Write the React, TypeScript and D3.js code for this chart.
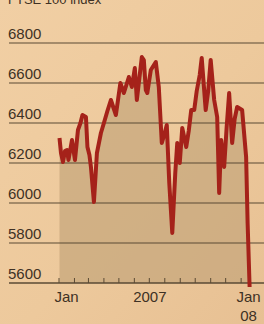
import React, { useEffect, useRef } from 'react';
import * as d3 from 'd3';

// FTSE 100 index, readings
const dates = [
  '2007-01-02', '2007-01-05', '2007-01-09', '2007-01-13', '2007-01-17', '2007-01-20', '2007-01-27', '2007-02-02',
  '2007-02-08', '2007-02-13', '2007-02-17', '2007-02-24', '2007-02-27', '2007-03-03', '2007-03-06',
  '2007-03-12', '2007-03-18', '2007-03-22', '2007-03-26', '2007-04-01', '2007-04-08', '2007-04-15',
  '2007-04-25', '2007-05-04', '2007-05-11', '2007-05-21', '2007-05-27', '2007-06-02',
  '2007-06-06', '2007-06-16', '2007-06-20', '2007-06-24', '2007-06-27', '2007-07-04',
  '2007-07-14', '2007-07-20', '2007-07-26', '2007-08-01', '2007-08-05', '2007-08-10', '2007-08-16',
  '2007-08-22', '2007-08-26', '2007-08-31', '2007-09-05', '2007-09-13', '2007-09-18', '2007-09-23',
  '2007-09-29', '2007-10-04', '2007-10-10', '2007-10-14', '2007-10-22', '2007-10-27', '2007-11-01', '2007-11-08',
  '2007-11-14', '2007-11-18', '2007-11-22', '2007-11-28', '2007-12-03', '2007-12-08', '2007-12-14',
  '2007-12-19', '2007-12-24', '2008-01-03', '2008-01-11', '2008-01-14', '2008-01-18',
];
const values = [
  6325, 6250, 6205, 6260, 6265, 6215, 6315, 6215,
  6365, 6400, 6440, 6430, 6280, 6240, 6180,
  6005, 6250, 6300, 6350, 6400, 6460, 6515,
  6440, 6600, 6550, 6630, 6580, 6675,
  6515, 6730, 6715, 6565, 6550, 6665,
  6705, 6580, 6300, 6350, 6390, 6100, 5850,
  6150, 6300, 6200, 6375, 6280, 6360, 6465,
  6465, 6560, 6640, 6725, 6465, 6560, 6715, 6515,
  6430, 6050, 6315, 6180, 6380, 6550, 6300,
  6420, 6480, 6465, 6230, 5900, 5580,
];

const yTicks = [5600, 5800, 6000, 6200, 6400, 6600, 6800];
const monthTicks = d3.utcMonths(new Date(Date.UTC(2007, 0, 1)), new Date(Date.UTC(2008, 0, 2)));
const xLabels = [
  { date: '2007-01-16', lines: ['Jan'] },
  { date: '2007-07-02', lines: ['2007'] },
  { date: '2008-01-16', lines: ['Jan', '08'] },
];
const title = 'FTSE 100 index';

const W = 264;
const H = 324;

export default function App() {
  const ref = useRef<SVGSVGElement>(null);

  useEffect(() => {
    document.body.style.margin = '0';
    if (!ref.current) return;
    const svg = d3.select(ref.current);
    svg.selectAll('*').remove();

    const parse = d3.utcParse('%Y-%m-%d');
    const data = dates.map((d, i) => ({ date: parse(d) as Date, value: values[i] }));

    const x = d3.scaleUtc()
      .domain([new Date(Date.UTC(2007, 0, 1)), new Date(Date.UTC(2008, 1, 1))])
      .range([59, 256.6]);
    const y = d3.scaleLinear().domain([5600, 6800]).range([283, 43]);

    const font = '"Liberation Sans", Arial, sans-serif';
    const ink = '#3e3124';

    // paper background
    const defs = svg.append('defs');
    const grad = defs.append('linearGradient')
      .attr('id', 'paper').attr('x1', 0).attr('y1', 0).attr('x2', 1).attr('y2', 1);
    grad.append('stop').attr('offset', '0%').attr('stop-color', '#f1cfa4');
    grad.append('stop').attr('offset', '55%').attr('stop-color', '#edc99c');
    grad.append('stop').attr('offset', '100%').attr('stop-color', '#e7c093');
    svg.append('rect').attr('width', W).attr('height', H).attr('fill', 'url(#paper)');

    // title, cut off at the top as in the clipping
    svg.append('text')
      .attr('x', 8).attr('y', 4)
      .attr('font-family', font).attr('font-size', 13)
      .attr('fill', ink)
      .text(title);

    // shaded area under the line
    const area = d3.area<{ date: Date; value: number }>()
      .x(d => x(d.date))
      .y0(y(5600))
      .y1(d => y(d.value));
    svg.append('path')
      .datum(data)
      .attr('d', area)
      .attr('fill', '#c4a57a')
      .attr('opacity', 0.7);

    // gridlines and labels
    yTicks.forEach(t => {
      svg.append('line')
        .attr('x1', 9).attr('x2', W)
        .attr('y1', y(t)).attr('y2', y(t))
        .attr('stroke', '#5a4a34')
        .attr('stroke-width', t === 5600 ? 1.5 : 1.2);
      svg.append('text')
        .attr('x', 8).attr('y', y(t) - 4)
        .attr('font-family', font).attr('font-size', 15)
        .attr('fill', ink)
        .text(t);
    });

    // month ticks on the baseline
    svg.append('g')
      .selectAll('line')
      .data(monthTicks)
      .enter()
      .append('line')
      .attr('x1', d => x(d)).attr('x2', d => x(d))
      .attr('y1', y(5600)).attr('y2', y(5600) - 5)
      .attr('stroke', '#5a4a34')
      .attr('stroke-width', 1);

    // index line
    const line = d3.line<{ date: Date; value: number }>()
      .x(d => x(d.date))
      .y(d => y(d.value));
    svg.append('path')
      .datum(data)
      .attr('d', line)
      .attr('fill', 'none')
      .attr('stroke', '#a5221a')
      .attr('stroke-width', 4)
      .attr('stroke-linejoin', 'round');

    // x labels
    xLabels.forEach(l => {
      const t = svg.append('text')
        .attr('x', x(parse(l.date) as Date))
        .attr('y', 302)
        .attr('text-anchor', 'middle')
        .attr('font-family', font).attr('font-size', 15)
        .attr('fill', ink);
      l.lines.forEach((s, i) => {
        t.append('tspan')
          .attr('x', x(parse(l.date) as Date))
          .attr('dy', i === 0 ? 0 : 19)
          .text(s);
      });
    });
  }, []);

  return <svg ref={ref} width={W} height={H} viewBox={`0 0 ${W} ${H}`} style={{ display: 'block' }} />;
}
